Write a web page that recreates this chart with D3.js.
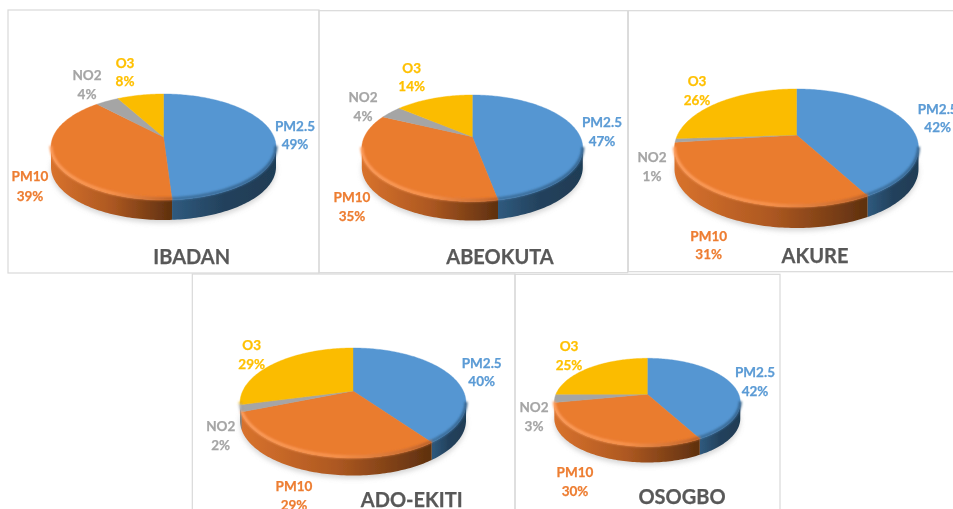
<!DOCTYPE html>
<html>
<head>
<meta charset="utf-8">
<title>Pollutant share by city</title>
<script src="https://cdnjs.cloudflare.com/ajax/libs/d3/7.8.5/d3.min.js"></script>
<style>
  html, body { margin: 0; padding: 0; background: #fff; overflow: hidden; }
  text { font-family: Lato, "Open Sans", sans-serif; font-weight: 700; stroke: currentColor; stroke-width: 0.25px; }
</style>
</head>
<body>
<div id="container"></div>
<script>
  //-----------------------------[prep]DATA------------------------------//
  const cities = ["IBADAN", "ABEOKUTA", "AKURE", "ADO-EKITI", "OSOGBO"];
  const pollutants = ["PM2.5", "PM10", "NO2", "O3"];

  const pm25Values = [49, 47, 42, 40, 42];
  const pm10Values = [39, 35, 31, 29, 30];
  const no2Values = [4, 4, 1, 2, 3];
  const o3Values = [8, 14, 26, 29, 25];

  //-----------------------------[prep]LAYOUT----------------------------//
  // box = panel frame, cx/apex/top/bottom/rx/depth = pie on screen
  // labels = centre x, first line y, second line y, in pollutant order
  const layout = [
    { box: [8, 10, 311, 263], cx: 163.5, apex: 137, top: 94, bottom: 200, rx: 112.5, depth: 20,
      title: [191.7, 257],
      labels: [[295, 126, 144.7], [30, 176, 196], [87, 75, 94], [125, 63, 81]] },
    { box: [319, 10.7, 308.7, 262], cx: 472.3, apex: 136.7, top: 95, bottom: 201.5, rx: 110.5, depth: 19,
      title: [500, 257],
      labels: [[602, 122, 141], [352, 197, 216], [363, 97.5, 116], [411.7, 68, 86]] },
    { box: [628.3, 10.7, 340, 261], cx: 796.5, apex: 135, top: 89, bottom: 207, rx: 122, depth: 21,
      title: [815, 256],
      labels: [[937.7, 109, 127], [708.7, 236, 254.5], [652, 157.5, 176], [697, 81, 100]] },
    { box: [192.3, 274, 322.7, 260], cx: 353, apex: 391, top: 348, bottom: 458, rx: 113, depth: 17.5,
      title: [411.7, 500],
      labels: [[481.7, 363, 381.7], [294, 486, 505], [220.7, 426.7, 445], [251.7, 345, 364]] },
    { box: [515, 274.3, 265, 260], cx: 647.3, apex: 394.3, top: 358.3, bottom: 446.5, rx: 93, depth: 16,
      title: [682, 496.7],
      labels: [[755, 372, 391.7], [575, 472, 491], [534, 407.7, 426], [569, 346.7, 365]] }
  ];

  const width = 953;
  const height = 509;

  const topColor = d3.scaleOrdinal().domain(pollutants)
    .range(["#5596d2", "#ea7b2e", "#a5a5a5", "#fbbc04"]);
  const textColor = d3.scaleOrdinal().domain(pollutants)
    .range(["#5b9bd5", "#ed7d31", "#a5a5a5", "#ffc000"]);

  // wall colours from left to right of the pie
  const wallStops = {
    "PM2.5": ["#2f5a7e", "#23415c", "#1f3c55"],
    "PM10": ["#d8722d", "#ad5821", "#5e300f"],
    "NO2": ["#8a8a8a", "#777777", "#555555"],
    "O3": ["#c99400", "#a67c00", "#7a5a00"]
  };
  // soft band where the top surface meets the wall
  const rimStops = {
    "PM2.5": ["#3c6f9c", "#396a96", "#34628c"],
    "PM10": ["#fd9f60", "#f89450", "#b8602a"],
    "NO2": ["#c4c4c4", "#b0b0b0", "#999999"],
    "O3": ["#ffd040", "#e6ad00", "#c99400"]
  };

  //-----------------------------[prep]SVG-------------------------------//
  const svg = d3.select("#container").append("svg")
    .attr("width", width)
    .attr("height", height)
    .attr("viewBox", "0 0 " + width + " " + height);

  const defs = svg.append("defs");

  function addBlur(id, amount) {
    defs.append("filter")
      .attr("id", id)
      .attr("filterUnits", "userSpaceOnUse")
      .attr("x", 0).attr("y", 0)
      .attr("width", width).attr("height", height)
      .append("feGaussianBlur")
      .attr("stdDeviation", amount);
  }
  addBlur("soft", 0.4);
  addBlur("rimBlur", 1.1);
  addBlur("shadowBlur", 2.5);

  const root = svg.append("g").attr("filter", "url(#soft)");

  const pie = d3.pie().sort(null).value(d => d.value);
  const pathLine = d3.line().x(d => d[0]).y(d => d[1]);

  function addGradient(id, stops, x0, x1) {
    const grad = defs.append("linearGradient")
      .attr("id", id)
      .attr("gradientUnits", "userSpaceOnUse")
      .attr("x1", x0).attr("x2", x1)
      .attr("y1", 0).attr("y2", 0);
    grad.selectAll("stop").data(stops).enter().append("stop")
      .attr("offset", (d, i) => i / (stops.length - 1))
      .attr("stop-color", d => d);
  }

  //-----------------------------[drawing]PANELS-------------------------//
  cities.forEach(function (city, c) {
    const p = layout[c];
    const data = pollutants.map(function (name, i) {
      const values = [pm25Values, pm10Values, no2Values, o3Values][i];
      return { name: name, value: values[c] };
    });

    const panel = root.append("g").attr("class", "panel");

    panel.append("rect")
      .attr("x", p.box[0]).attr("y", p.box[1])
      .attr("width", p.box[2]).attr("height", p.box[3])
      .attr("fill", "none")
      .attr("stroke", "#d9d9d9")
      .attr("stroke-width", 1.2);

    // perspective of the tilted disc, worked out from its screen extents
    const above = p.apex - p.top;
    const below = p.bottom - p.apex;
    const k = (below - above) / (below + above);
    const sy = above * (1 + k);
    const sx = p.rx * Math.sqrt(1 - k * k);

    // angle: clockwise from twelve o'clock, like d3.pie
    const project = function (a, drop) {
      const w = 1 + k * Math.cos(a);
      return [p.cx + sx * Math.sin(a) / w, p.apex - sy * Math.cos(a) / w + (drop || 0)];
    };
    const arcPoints = function (a0, a1, drop) {
      const n = Math.max(2, Math.ceil(Math.abs(a1 - a0) / 0.02));
      return d3.range(n + 1).map(i => project(a0 + (a1 - a0) * i / n, drop));
    };

    const slices = pie(data);

    // wall is visible between the two widest points of the disc
    const wallStart = Math.acos(-k);
    const wallEnd = 2 * Math.PI - wallStart;

    // shadow under the disc
    panel.append("path")
      .attr("d", pathLine(arcPoints(0, 2 * Math.PI, p.depth + 3)) + "Z")
      .attr("fill", "#b5b5b5")
      .attr("opacity", 0.55)
      .attr("filter", "url(#shadowBlur)");

    // walls
    slices.forEach(function (s) {
      const a0 = Math.max(s.startAngle, wallStart);
      const a1 = Math.min(s.endAngle, wallEnd);
      if (a1 <= a0) return;
      const id = "wall-" + c + "-" + pollutants.indexOf(s.data.name);
      const xs = arcPoints(a0, a1).map(d => d[0]);
      addGradient(id, wallStops[s.data.name], d3.min(xs), d3.max(xs));
      panel.append("path")
        .attr("d", pathLine(arcPoints(a0, a1, 0).concat(arcPoints(a1, a0, p.depth))) + "Z")
        .attr("fill", "url(#" + id + ")");
    });

    // top surface
    slices.forEach(function (s) {
      const outline = [[p.cx, p.apex]].concat(arcPoints(s.startAngle, s.endAngle));
      panel.append("path")
        .attr("d", pathLine(outline) + "Z")
        .attr("fill", topColor(s.data.name))
        .attr("stroke", topColor(s.data.name))
        .attr("stroke-width", 0.4);
    });

    // bevel band along the front edge
    slices.forEach(function (s) {
      const a0 = Math.max(s.startAngle, wallStart);
      const a1 = Math.min(s.endAngle, wallEnd);
      if (a1 <= a0) return;
      const id = "rim-" + c + "-" + pollutants.indexOf(s.data.name);
      const xs = arcPoints(a0, a1).map(d => d[0]);
      addGradient(id, rimStops[s.data.name], d3.min(xs), d3.max(xs));
      panel.append("path")
        .attr("d", pathLine(arcPoints(a0, a1, -1.2)))
        .attr("fill", "none")
        .attr("stroke", "url(#" + id + ")")
        .attr("stroke-width", 3)
        .attr("filter", "url(#rimBlur)");
    });

    // labels
    data.forEach(function (d, i) {
      const pos = p.labels[i];
      const label = panel.append("g")
        .attr("fill", textColor(d.name))
        .style("color", textColor(d.name))
        .attr("font-size", 13.5)
        .attr("text-anchor", "middle");
      label.append("text").attr("x", pos[0]).attr("y", pos[1]).attr("dy", "0.35em").text(d.name);
      label.append("text").attr("x", pos[0]).attr("y", pos[2]).attr("dy", "0.35em").text(d.value + "%");
    });

    // city title
    panel.append("text")
      .attr("x", p.title[0]).attr("y", p.title[1])
      .attr("dy", "0.35em")
      .attr("text-anchor", "middle")
      .attr("font-size", 20)
      .attr("fill", "#595959")
      .style("color", "#595959")
      .text(city);
  });
</script>
</body>
</html>
